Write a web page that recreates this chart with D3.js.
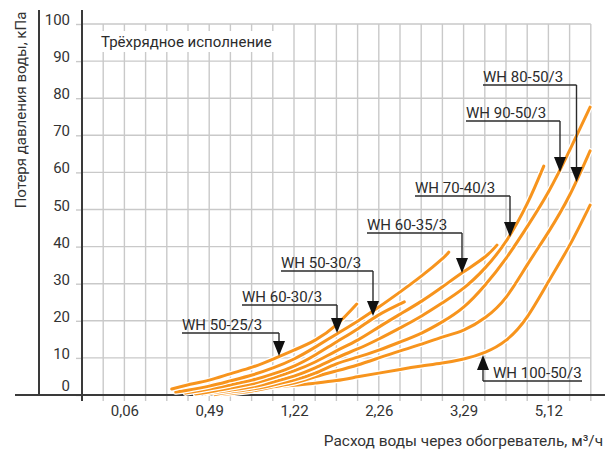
<!DOCTYPE html>
<html>
<head>
<meta charset="utf-8">
<script src="https://cdn.jsdelivr.net/npm/d3@7"></script>
<style>
  html, body { margin: 0; padding: 0; background: #fff; }
  svg { display: block; font-family: Roboto, "DejaVu Sans", sans-serif; }
</style>
</head>
<body>
<svg id="chart" width="609" height="452"></svg>
<script>
// Flow axis tick values (m³/h) and pressure axis ticks (kPa)
const flowTicks = [0.06, 0.49, 1.22, 2.26, 3.29, 5.12];
const pressureTicks = [0, 10, 20, 30, 40, 50, 60, 70, 80, 90, 100];

// Heater models
const seriesNames = ["WH 50-25/3", "WH 60-30/3", "WH 50-30/3", "WH 60-35/3",
                     "WH 70-40/3", "WH 90-50/3", "WH 80-50/3", "WH 100-50/3"];

// Pressure loss curves: flow (m³/h) and loss (kPa) per model
const flow5025 = [0.30, 0.38, 0.49, 0.67, 0.86, 1.04, 1.22, 1.48, 1.74, 1.99];
const loss5025 = [1.6, 2.7, 4.0, 5.7, 7.5, 9.7, 12.1, 14.8, 18.9, 24.5];

const flow6030 = [0.32, 0.38, 0.49, 0.67, 0.86, 1.04, 1.22, 1.48, 1.74, 2.00, 2.26, 2.52, 2.78, 3.03, 3.11];
const loss6030 = [0.8, 1.3, 2.4, 3.8, 5.4, 7.3, 9.7, 12.9, 16.4, 19.9, 23.7, 27.8, 32.1, 36.7, 38.5];

const flow5030 = [0.37, 0.49, 0.67, 0.86, 1.04, 1.22, 1.48, 1.74, 2.00, 2.26, 2.57];
const loss5030 = [0.5, 1.6, 2.7, 4.0, 5.7, 7.8, 10.8, 14.3, 17.8, 21.6, 25.1];

const flow6035 = [0.42, 0.49, 0.67, 0.86, 1.04, 1.22, 1.48, 1.74, 2.00, 2.26, 2.52, 2.78, 3.03, 3.29, 3.75, 4.01];
const loss6035 = [0.3, 0.8, 1.9, 3.0, 4.6, 6.5, 8.9, 11.9, 14.8, 18.3, 21.8, 25.3, 29.1, 33.2, 37.2, 40.4];

const flow7040 = [0.47, 0.67, 0.86, 1.04, 1.22, 1.48, 1.74, 2.00, 2.26, 2.52, 2.78, 3.03, 3.29, 3.75, 4.21, 4.66, 5.02];
const loss7040 = [0.3, 1.3, 2.2, 3.5, 5.1, 7.3, 10.0, 12.4, 15.1, 18.1, 21.3, 24.8, 28.8, 34.2, 41.5, 51.5, 61.7];

const flow9050 = [0.54, 0.67, 0.86, 1.04, 1.22, 1.48, 1.74, 2.00, 2.26, 2.52, 2.78, 3.03, 3.29, 3.75, 4.21, 4.66, 5.12, 5.58, 6.02];
const loss9050 = [0.1, 0.8, 1.6, 2.7, 4.0, 5.9, 8.4, 10.2, 12.1, 14.3, 16.7, 19.7, 23.7, 29.6, 36.9, 45.3, 54.7, 66.0, 77.6];

const flow8050 = [0.60, 0.86, 1.04, 1.22, 1.48, 1.74, 2.00, 2.26, 2.52, 2.78, 3.03, 3.29, 3.75, 4.21, 4.66, 5.12, 5.58, 6.02];
const loss8050 = [0.1, 1.1, 2.2, 3.2, 4.9, 6.5, 8.1, 10.0, 11.9, 13.7, 15.6, 17.5, 20.8, 26.4, 35.0, 43.9, 53.9, 65.8];

const flow10050 = [0.96, 1.22, 1.48, 1.74, 2.00, 2.26, 2.52, 2.78, 3.03, 3.29, 3.75, 4.21, 4.66, 5.12, 5.58, 6.02];
const loss10050 = [1.9, 2.6, 3.2, 3.9, 4.9, 5.9, 6.9, 7.8, 8.6, 9.7, 11.5, 14.8, 21.0, 30.5, 40.4, 51.2];

const seriesFlows = [flow5025, flow6030, flow5030, flow6035, flow7040, flow9050, flow8050, flow10050];
const seriesLosses = [loss5025, loss6030, loss5030, loss6035, loss7040, loss9050, loss8050, loss10050];

// ---------- layout ----------
const svg = d3.select("#chart");
const plot = { left: 82, top: 24, right: 590.8, bottom: 395 };
const columns = 24;
const cell = (plot.right - plot.left) / columns;

const GRID = "#c9c9c9";
const AXIS = "#3a3a3a";
const INK = "#2b2b2b";
const ORANGE = "#f7941d";

// Flow axis: tick values sit every fourth grid column
const x = d3.scaleLinear()
  .domain(flowTicks)
  .range(flowTicks.map((d, i) => plot.left + cell * (2 + 4 * i)));
const y = d3.scaleLinear().domain([0, 100]).range([plot.bottom, plot.top]);

// vertical grid
svg.append("g").selectAll("line")
  .data(d3.range(1, columns + 1))
  .join("line")
  .attr("x1", k => plot.left + k * cell).attr("x2", k => plot.left + k * cell)
  .attr("y1", plot.top).attr("y2", plot.bottom + 6)
  .attr("stroke", GRID).attr("stroke-width", 1.4);

// horizontal grid
svg.append("g").selectAll("line")
  .data(pressureTicks.filter(d => d > 0))
  .join("line")
  .attr("x1", plot.left).attr("x2", plot.right)
  .attr("y1", d => y(d)).attr("y2", d => y(d))
  .attr("stroke", GRID).attr("stroke-width", 1.4);

// pressure axis labels
const yAxis = svg.append("g")
  .attr("transform", `translate(${plot.left},0)`)
  .call(d3.axisLeft(y).tickValues(pressureTicks).tickSize(6).tickPadding(6));
yAxis.select(".domain").remove();
yAxis.selectAll(".tick line").attr("stroke", GRID).attr("stroke-width", 1.4);
yAxis.selectAll(".tick text")
  .attr("fill", "#333").attr("font-size", 15)
  .attr("font-family", "Roboto, sans-serif")
  .attr("dy", d => d === 0 ? "-5px" : "0.5px");

// flow axis labels
const xAxis = svg.append("g")
  .attr("transform", `translate(0,${plot.bottom})`)
  .call(d3.axisBottom(x).tickValues(flowTicks).tickSize(0).tickPadding(10)
    .tickFormat(d => d.toFixed(2).replace(".", ",")));
xAxis.select(".domain").remove();
xAxis.selectAll(".tick text")
  .attr("fill", "#333").attr("font-size", 15)
  .attr("font-family", "Roboto, sans-serif");

// frame lines
svg.append("line").attr("x1", plot.left).attr("x2", plot.left)
  .attr("y1", 10).attr("y2", plot.bottom + 6)
  .attr("stroke", AXIS).attr("stroke-width", 2);
svg.append("line").attr("x1", 39).attr("x2", 39)
  .attr("y1", 10).attr("y2", plot.bottom)
  .attr("stroke", AXIS).attr("stroke-width", 2);
svg.append("line").attr("x1", 15).attr("x2", 605)
  .attr("y1", plot.bottom).attr("y2", plot.bottom)
  .attr("stroke", AXIS).attr("stroke-width", 2);

// axis titles
svg.append("text")
  .attr("transform", "translate(26,110) rotate(-90)")
  .attr("text-anchor", "middle")
  .attr("fill", "#333").attr("font-size", 15)
  .text("Потеря давления воды, кПа");
svg.append("text")
  .attr("x", 603).attr("y", 446)
  .attr("text-anchor", "end")
  .attr("fill", "#333").attr("font-size", 15.4)
  .text("Расход воды через обогреватель, м³/ч");

// chart caption on a white plate
svg.append("rect").attr("x", 84).attr("y", 31).attr("width", 206).attr("height", 21)
  .attr("fill", "#fff");
svg.append("text").attr("x", 101).attr("y", 47)
  .attr("fill", INK).attr("font-size", 15)
  .text("Трёхрядное исполнение");

// curves
const line = d3.line()
  .x(d => x(d[0])).y(d => y(d[1]))
  .curve(d3.curveNatural);

const curves = seriesNames.map((name, i) => ({
  name,
  points: seriesFlows[i].map((f, j) => [f, seriesLosses[i][j]])
}));

const curveLayer = svg.append("g");
curves.slice().reverse().forEach(c => {
  curveLayer.append("path").attr("d", line(c.points))
    .attr("fill", "none").attr("stroke", "#fff").attr("stroke-width", 5.5)
    .attr("stroke-linecap", "round");
  curveLayer.append("path").attr("d", line(c.points))
    .attr("fill", "none").attr("stroke", ORANGE).attr("stroke-width", 3)
    .attr("stroke-linecap", "round");
});

// callouts: underlined model name with a leader arrow to its curve
const callouts = [
  { name: "WH 50-25/3",  tx: 182, ly: 333, ax: 279, tip: 356, dir: "down" },
  { name: "WH 60-30/3",  tx: 242, ly: 305, ax: 337, tip: 333, dir: "down" },
  { name: "WH 50-30/3",  tx: 281, ly: 271, ax: 373, tip: 316, dir: "down" },
  { name: "WH 60-35/3",  tx: 367, ly: 233, ax: 462, tip: 273, dir: "down" },
  { name: "WH 70-40/3",  tx: 415, ly: 196, ax: 510, tip: 237, dir: "down" },
  { name: "WH 90-50/3",  tx: 466, ly: 121, ax: 560, tip: 172, dir: "down" },
  { name: "WH 80-50/3",  tx: 483, ly: 85,  ax: 576.5, tip: 182, dir: "down" },
  { name: "WH 100-50/3", tx: 493, ly: 381, ax: 483, tip: 355, dir: "up", tEnd: 582 }
];

const callLayer = svg.append("g");
callouts.forEach(c => {
  const up = c.dir === "up";
  const head = 15, half = 6;
  const x0 = up ? c.ax : c.tx;
  const x1 = up ? c.tEnd : c.ax;
  callLayer.append("line").attr("x1", x0).attr("x2", x1)
    .attr("y1", c.ly).attr("y2", c.ly)
    .attr("stroke", INK).attr("stroke-width", 1.4);
  const base = up ? c.tip + head : c.tip - head;
  callLayer.append("line").attr("x1", c.ax).attr("x2", c.ax)
    .attr("y1", c.ly).attr("y2", base)
    .attr("stroke", INK).attr("stroke-width", 1.4);
  callLayer.append("path")
    .attr("d", `M${c.ax - half},${base}L${c.ax + half},${base}L${c.ax},${c.tip}Z`)
    .attr("fill", "#111");
  callLayer.append("text")
    .attr("x", c.tx).attr("y", c.ly - 3)
    .attr("fill", INK).attr("font-size", 15)
    .text(c.name);
});
</script>
</body>
</html>
